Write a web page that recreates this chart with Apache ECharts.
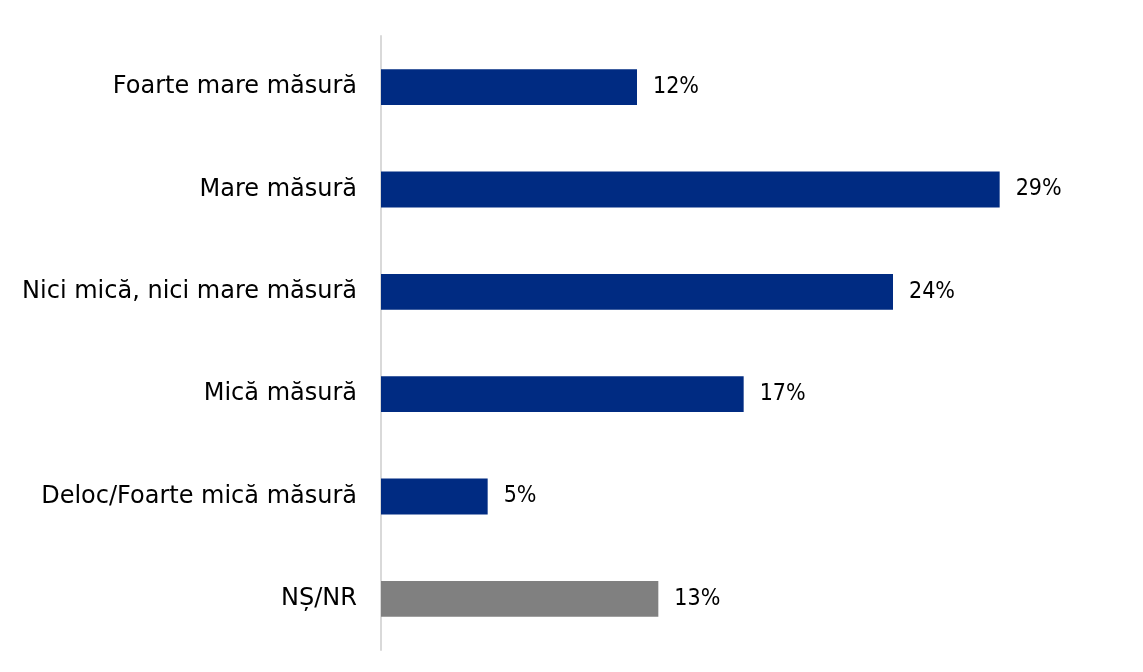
<!DOCTYPE html>
<html><head><meta charset="utf-8">
<script src="https://cdn.jsdelivr.net/npm/echarts@6/dist/echarts.min.js"></script>
<style>html,body{margin:0;padding:0;background:#fff}#c{width:1143px;height:672px}</style>
</head><body><div id="c"></div>
<script>
const categories = ["Foarte mare măsură","Mare măsură","Nici mică, nici mare măsură","Mică măsură","Deloc/Foarte mică măsură","NȘ/NR"];
const values = [12,29,24,17,5,13];
const barColors = ["#002b82","#002b82","#002b82","#002b82","#002b82","#808080"];
const chart = echarts.init(document.getElementById('c'), null, {renderer:'canvas'});
chart.setOption({
  animation:false,
  grid:{left:381,top:36,bottom:22,right:122,containLabel:false},
  xAxis:{type:'value',min:0,max:30,show:false},
  yAxis:{type:'category',inverse:true,data:categories,
    axisLine:{show:true,lineStyle:{color:'#d9d9d9',width:2}},
    axisTick:{show:false},
    axisLabel:{color:'#000',fontFamily:'DejaVu Sans',fontSize:24,margin:24}},
  series:[{type:'bar',barWidth:'35%',
    data:values.map((v,i)=>({value:v,itemStyle:{color:barColors[i]}})),
    label:{show:true,position:'right',distance:16,color:'#000',fontFamily:'DejaVu Sans Condensed',fontSize:23,formatter:p=>p.value+'%'}}]
});
</script></body></html>
